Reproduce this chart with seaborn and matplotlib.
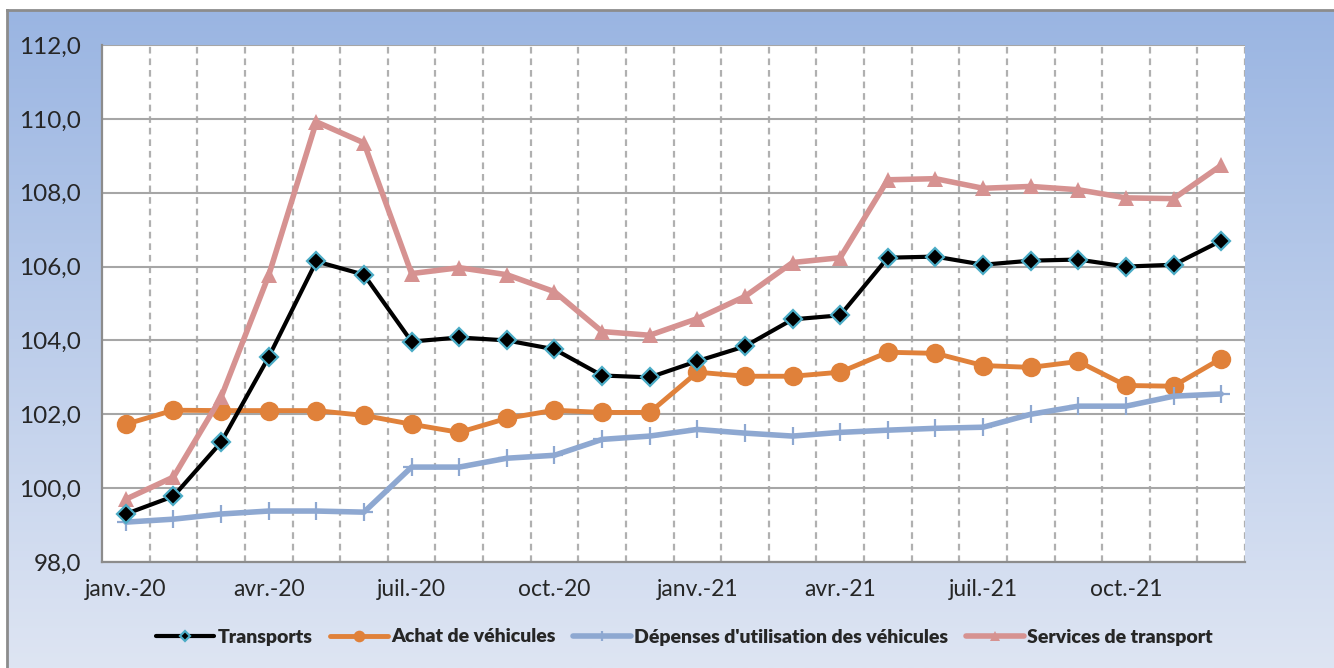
import numpy as np
import pandas as pd
import matplotlib.pyplot as plt
import matplotlib.ticker as mticker
import seaborn as sns

# monthly data, janv.-20 to déc.-21
months = pd.date_range('2020-01-01', periods=24, freq='MS')
month_labels = ['janv.-20', 'avr.-20', 'juil.-20', 'oct.-20',
                'janv.-21', 'avr.-21', 'juil.-21', 'oct.-21']

transports = [99.30, 99.78, 101.24, 103.55, 106.14, 105.78, 103.97, 104.08,
              104.00, 103.76, 103.05, 103.00, 103.44, 103.84, 104.57, 104.68,
              106.24, 106.27, 106.05, 106.16, 106.19, 106.00, 106.05, 106.70]
achat = [101.73, 102.11, 102.10, 102.10, 102.10, 101.97, 101.73, 101.51,
         101.89, 102.11, 102.05, 102.05, 103.14, 103.03, 103.03, 103.14,
         103.68, 103.65, 103.32, 103.27, 103.43, 102.78, 102.76, 103.51]
depenses = [99.08, 99.16, 99.30, 99.38, 99.38, 99.35, 100.57, 100.57,
            100.81, 100.89, 101.32, 101.41, 101.59, 101.49, 101.41, 101.51,
            101.57, 101.62, 101.65, 102.00, 102.22, 102.22, 102.49, 102.55]
services = [99.70, 100.30, 102.46, 105.76, 109.92, 109.35, 105.81, 105.97,
            105.78, 105.32, 104.24, 104.14, 104.59, 105.19, 106.11, 106.24,
            108.35, 108.38, 108.12, 108.17, 108.08, 107.86, 107.84, 108.74]

df = pd.DataFrame({'idx': np.arange(len(months)), 'Transports': transports,
                   'Achat': achat, 'Depenses': depenses, 'Services': services})

W, H = 1334, 668
fig = plt.figure(figsize=(W / 100, H / 100), dpi=100, facecolor='white')
sns.set_style('white')
plt.rcParams['font.family'] = ['Lato', 'DejaVu Sans']

# gradient background of the chart area
bg = fig.add_axes([7 / W, 0, 1 - 7 / W, 1 - 10 / H], zorder=-5)
grad = np.linspace(0, 1, 256).reshape(-1, 1)
top_c = np.array([0x9A, 0xB5, 0xE2]) / 255
bot_c = np.array([0xDE, 0xE5, 0xF3]) / 255
img = top_c + (bot_c - top_c) * grad[:, :, None]
bg.imshow(img, aspect='auto', extent=[0, 1, 0, 1])
bg.set_xlim(0, 1)
bg.set_ylim(0, 1)
bg.set_xticks([])
bg.set_yticks([])
for s in ['right', 'bottom']:
    bg.spines[s].set_visible(False)
for s in ['left', 'top']:
    bg.spines[s].set_color('#8C8C8C')
    bg.spines[s].set_linewidth(2)

ax = fig.add_axes([102 / W, 1 - 562 / H, (1245 - 102) / W, (562 - 45) / H])
ax.set_facecolor('white')

sns.lineplot(data=df, x='idx', y='Achat', ax=ax, color='#E0813A', lw=3.5,
             marker='o', markersize=14, markeredgewidth=0, zorder=3,
             label='Achat de véhicules')
sns.lineplot(data=df, x='idx', y='Depenses', ax=ax, color='#8EA8D1', lw=4,
             marker='+', markersize=13, markeredgewidth=1.6,
             markeredgecolor='#8EA8D1', zorder=4,
             label="Dépenses d'utilisation des véhicules")
sns.lineplot(data=df, x='idx', y='Services', ax=ax, color='#D69291', lw=4,
             marker='^', markersize=11, markeredgewidth=0, zorder=5,
             label='Services de transport')
sns.lineplot(data=df, x='idx', y='Transports', ax=ax, color='black', lw=3,
             marker='D', markersize=9, markerfacecolor='black',
             markeredgecolor='#4BACC6', markeredgewidth=1.6, zorder=6,
             label='Transports')

ax.set_xlim(-0.5, len(months) - 0.5)
ax.set_ylim(98, 112)
ax.set_xlabel('')
ax.set_ylabel('')

# gridlines
ax.yaxis.set_major_locator(mticker.MultipleLocator(2))
ax.yaxis.set_major_formatter(mticker.FuncFormatter(lambda v, p: f'{v:.1f}'.replace('.', ',')))
ax.grid(axis='y', color='#A6A6A6', lw=1.5, ls='-', zorder=0)
for k in range(1, len(months) + 1):
    ax.axvline(k - 0.5, color='#B0B0B0', lw=1.6, ls=(0, (3, 2.2)), zorder=0)

ax.set_xticks(np.arange(-0.5, len(months), 3))
ax.set_xticklabels([])
ax.set_xticks(np.arange(0, len(months), 3), minor=True)
ax.set_xticklabels(month_labels, minor=True)
ax.tick_params(axis='x', which='major', length=8, width=1.5, color='#8C8C8C', direction='out')
ax.tick_params(axis='x', which='minor', length=0, pad=12, labelsize=16.5)
ax.tick_params(axis='y', length=7, width=1.5, color='#8C8C8C', direction='out', pad=8, labelsize=17.5)

for s in ['top', 'right']:
    ax.spines[s].set_visible(False)
for s in ['left', 'bottom']:
    ax.spines[s].set_color('#8C8C8C')
    ax.spines[s].set_linewidth(1.6)

# legend in the original order
h, l = ax.get_legend_handles_labels()
order = [l.index('Transports'), l.index('Achat de véhicules'),
         l.index("Dépenses d'utilisation des véhicules"), l.index('Services de transport')]
leg = fig.legend([h[i] for i in order], [l[i] for i in order], loc='center',
                 bbox_to_anchor=(0.513, 1 - 637 / H), ncol=4, frameon=False,
                 handlelength=3.0, columnspacing=0.9, handletextpad=0.15,
                 markerscale=0.6, prop={'weight': 'heavy', 'size': 14})
ax.get_legend().remove()

fig.savefig('out.png', dpi=100)
